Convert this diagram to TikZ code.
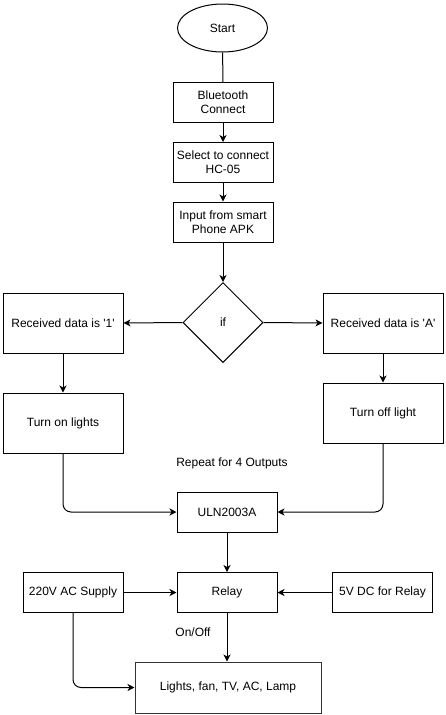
\documentclass[tikz,border=0pt]{standalone}
\usepackage{fontspec}
\setmainfont{Liberation Sans}
\usetikzlibrary{shapes.geometric,arrows.meta}
\begin{document}
\begin{tikzpicture}[x=1pt,y=-1pt,
  every node/.style={font=\fontsize{12}{14}\selectfont, align=center, inner sep=0pt},
  box/.style={draw, line width=1pt, minimum width=100pt, minimum height=40pt},
  widebox/.style={draw, line width=1pt, minimum width=120pt, minimum height=60pt},
  conn/.style={line width=1pt, -{Stealth[length=7pt,width=7pt,inset=2pt]}},
  plainline/.style={line width=1pt},
  elbow/.style={conn, rounded corners=8pt}]
\useasboundingbox (0,0) rectangle (445,715);
\fill[white] (0,0) rectangle (445,715);
\node[draw, ellipse, line width=1pt, minimum width=90pt, minimum height=48pt] (start) at (222.5,28) {Start};
\node[box] (bt) at (223,102.5) {Bluetooth\\Connect};
\node[box] (sel) at (223,162.5) {Select to connect\\HC-05};
\node[box] (inp) at (223,222) {Input from smart\\Phone APK};
\node[draw, diamond, aspect=1, line width=1pt, minimum width=80pt, minimum height=80pt] (dia) at (223,322.5) {if};
\node[widebox] (r1) at (63,323) {Received data is \textquotesingle 1\textquotesingle};
\node[widebox] (rA) at (383,323) {Received data is \textquotesingle A\textquotesingle};
\node[widebox] (on) at (63,423) {Turn on lights};
\node[widebox] (off) at (383,413) {Turn off light};
\node (rep) at (232,463) {Repeat for 4 Outputs};
\node[box] (uln) at (227,512) {ULN2003A};
\node[box] (relay) at (227,592.5) {Relay};
\node[box] (ac) at (73,592.5) {220V AC Supply};
\node[box] (dc) at (382.5,592.5) {5V DC for Relay};
\node (onoff) at (193,632) {On/Off};
\node[draw=black!80, line width=1pt, minimum width=186pt, minimum height=51pt] (lights) at (228,687.5) {Lights, fan, TV, AC, Lamp};
\draw[plainline] (start) -- (bt);
\draw[conn] (bt) -- (sel);
\draw[conn] (sel) -- (inp);
\draw[conn] (inp) -- (dia);
\draw[conn] (dia.west) -- (r1.east);
\draw[conn] (dia.east) -- (rA.west);
\draw[conn] (r1) -- (on);
\draw[conn] (rA) -- (off);
\draw[elbow] (on.south) -- (on.south |- uln.west) -- (uln.west);
\draw[elbow] (off.south) -- (off.south |- uln.east) -- (uln.east);
\draw[conn] (uln) -- (relay);
\draw[conn] (ac) -- (relay);
\draw[conn] (dc) -- (relay);
\draw[conn] (relay.south) -- (relay.south |- lights.north);
\draw[elbow] (ac.south) -- (ac.south |- lights.west) -- (lights.west);
\end{tikzpicture}
\end{document}
